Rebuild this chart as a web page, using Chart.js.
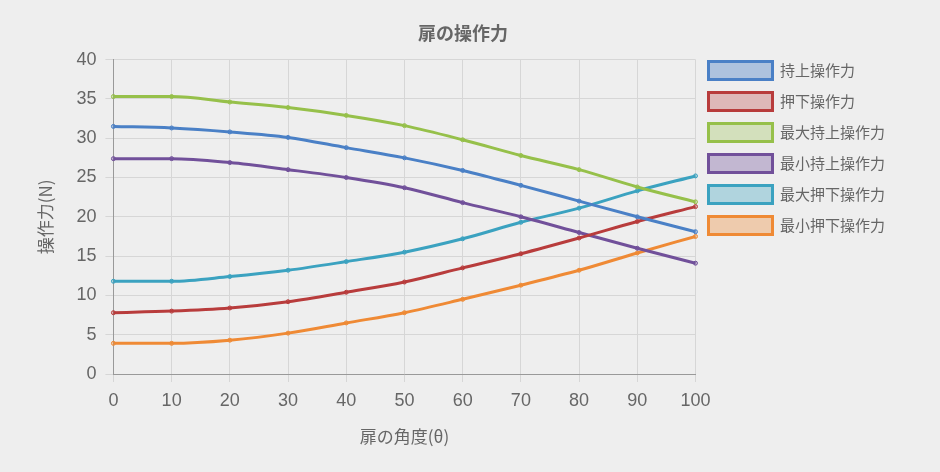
<!DOCTYPE html>
<html>
<head>
<meta charset="utf-8">
<script src="https://cdn.jsdelivr.net/npm/chart.js@4.4.0/dist/chart.umd.min.js"></script>
<style>
  html, body { margin: 0; padding: 0; background: #eeeeee; }
  #wrap { width: 940px; height: 472px; }
</style>
</head>
<body>
<div id="wrap"><canvas id="grafico-sousaryoku"></canvas></div>
<script>
var kakudo = ["0", "10", "20", "30", "40", "50", "60", "70", "80", "90", "100"];

var mochiage = [31.5, 31.3, 30.8, 30.1, 28.8, 27.5, 25.9, 24.0, 22.0, 20.0, 18.1];
var oshisage = [7.8, 8.0, 8.4, 9.2, 10.4, 11.7, 13.5, 15.3, 17.3, 19.4, 21.3];
var saidaiMochiage = [35.3, 35.3, 34.6, 33.9, 32.9, 31.6, 29.8, 27.8, 26.0, 23.8, 21.9];
var saishoMochiage = [27.4, 27.4, 26.9, 26.0, 25.0, 23.7, 21.8, 20.0, 18.0, 16.0, 14.1];
var saidaiOshisage = [11.8, 11.8, 12.4, 13.2, 14.3, 15.5, 17.2, 19.3, 21.1, 23.3, 25.2];
var saishoOshisage = [3.9, 3.9, 4.3, 5.2, 6.5, 7.8, 9.5, 11.3, 13.2, 15.4, 17.5];

var jpFont = "'Noto Sans CJK JP', 'Liberation Sans', sans-serif";
var numFont = "'Liberation Sans', sans-serif";

function senshu(label, data, color, fill) {
    return {
        label: label,
        data: data,
        borderColor: color,
        backgroundColor: fill,
        pointBackgroundColor: fill,
        pointBorderColor: color,
        borderWidth: 3,
        pointRadius: 2,
        pointBorderWidth: 1,
        cubicInterpolationMode: 'monotone',
        fill: false
    };
}

// legend sits level with the top of the plot, not below the title padding
var subirLegenda = {
    id: 'subirLegenda',
    afterLayout: function(chart) {
        chart.legend.top -= 11;
        chart.legend.bottom -= 11;
    }
};

var ctx = document.querySelector("#grafico-sousaryoku").getContext("2d");

var grafico = new Chart(ctx, {
    type: 'line',
    data: {
        labels: kakudo,
        datasets: [
            senshu("持上操作力", mochiage, "#4a80c6", "rgba(74,128,198,0.4)"),
            senshu("押下操作力", oshisage, "#b83c3c", "rgba(184,60,60,0.3)"),
            senshu("最大持上操作力", saidaiMochiage, "#96c04a", "rgba(150,192,74,0.3)"),
            senshu("最小持上操作力", saishoMochiage, "#71509a", "rgba(113,80,154,0.35)"),
            senshu("最大押下操作力", saidaiOshisage, "#3ba2c0", "rgba(59,162,192,0.35)"),
            senshu("最小押下操作力", saishoOshisage, "#ef8a35", "rgba(239,138,53,0.35)")
        ]
    },
    plugins: [subirLegenda],
    options: {
        responsive: true,
        maintainAspectRatio: false,
        animation: false,
        layout: {
            padding: { left: 31, right: 45, top: 10, bottom: 6 }
        },
        plugins: {
            title: {
                display: true,
                text: "扉の操作力",
                color: "#666",
                font: { family: jpFont, size: 18, weight: 'bold' },
                padding: { top: 12, bottom: 16 }
            },
            legend: {
                position: 'right',
                align: 'start',
                fullSize: false,
                labels: {
                    boxWidth: 64,
                    boxHeight: 18,
                    padding: 13,
                    color: "#666",
                    font: { family: jpFont, size: 15 }
                }
            },
            tooltip: { enabled: false }
        },
        scales: {
            x: {
                offset: false,
                grid: { color: "#d6d6d6", tickLength: 8 },
                border: { color: "#999" },
                ticks: {
                    color: "#666",
                    padding: 8,
                    font: { family: numFont, size: 18 },
                    maxRotation: 0
                },
                title: {
                    display: true,
                    text: "扉の角度(θ)",
                    color: "#666",
                    padding: { top: 7, bottom: 19 },
                    font: { family: jpFont, size: 17 }
                }
            },
            y: {
                min: 0,
                max: 40,
                grid: { color: "#d6d6d6", tickLength: 8 },
                border: { color: "#999" },
                ticks: {
                    stepSize: 5,
                    color: "#666",
                    padding: 9,
                    font: { family: numFont, size: 18 }
                },
                title: {
                    display: true,
                    text: "操作力(N)",
                    color: "#666",
                    padding: { top: 4, bottom: 12 },
                    font: { family: jpFont, size: 17 }
                }
            }
        }
    }
});
</script>
</body>
</html>
